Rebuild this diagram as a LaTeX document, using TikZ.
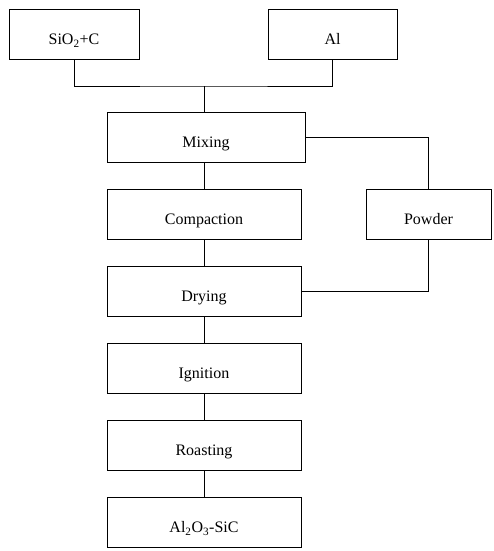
\documentclass[tikz,border=0pt]{standalone}
\usepackage{fontspec}
\setmainfont{Liberation Serif}
\usepackage{tikz}
\usetikzlibrary{positioning, calc}
\tikzset{
	procbox/.style={draw, line width=0.8pt, inner sep=0pt, text height=35pt, text depth=15pt,
		font=\fontsize{16}{19}\selectfont, align=center}
}
\begin{document}
\begin{tikzpicture}[x=1pt, y=-1pt, line width=0.8pt]
      \useasboundingbox (0,0) rectangle (493,551);
      \node[procbox, minimum width=130pt] (sio) at (74,34.5) {SiO\textsubscript{2}+C};
      \node[procbox, minimum width=129pt] (al) at (332.5,34.5) {Al};
      \node[procbox, minimum width=198pt] (mix) at (206,137.5) {Mixing};
      \node[procbox, minimum width=194pt] (comp) at (204,214.5) {Compaction};
      \node[procbox, minimum width=125pt] (powder) at (428.5,214.5) {Powder};
      \node[procbox, minimum width=194pt] (dry) at (204,291.5) {Drying};
      \node[procbox, minimum width=194pt] (ign) at (204,368.5) {Ignition};
      \node[procbox, minimum width=194pt] (roast) at (204,445.5) {Roasting};
      \node[procbox, minimum width=194pt] (prod) at (204,522.5) {Al\textsubscript{2}O\textsubscript{3}-SiC};
      \coordinate (join) at (204,86);
      \draw (sio.south) |- (join) -| (al.south);
      \draw (join) -- (join |- mix.north);
      \draw (comp.north |- mix.south) -- (comp.north);
      \foreach \a/\b in {comp/dry, dry/ign, ign/roast, roast/prod}
        \draw (\a.south) -- (\b.north);
      \draw (mix.east) -| (powder.north);
      \draw (powder.south) |- (dry.east);
    \end{tikzpicture}
\end{document}
